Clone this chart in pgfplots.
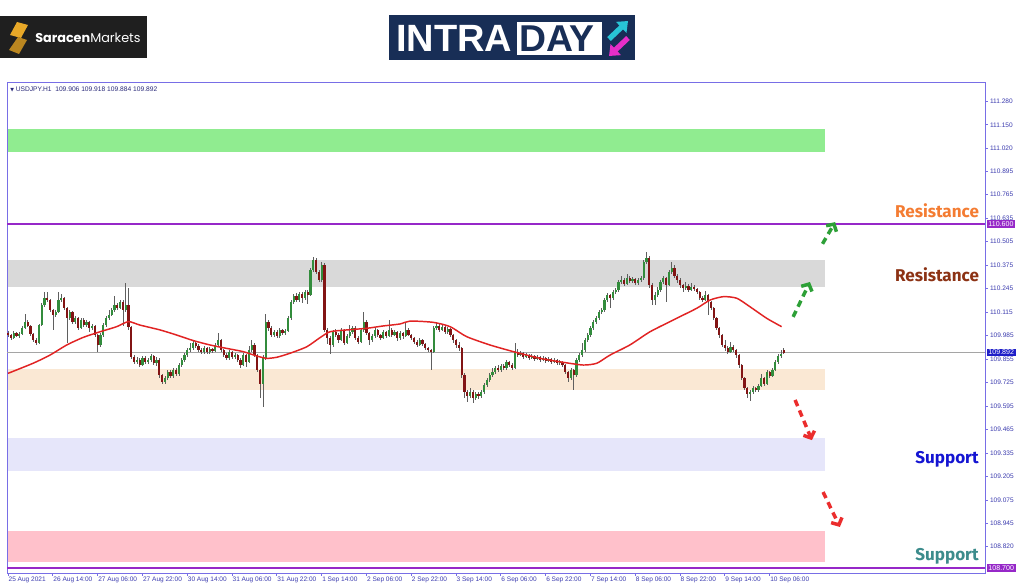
\documentclass[border=0pt]{standalone}
\usepackage{pgfplots}
\pgfplotsset{compat=1.18}
\usepackage{pgfplotstable}
\usepackage{fontspec}
\setmainfont{Liberation Sans}
\newfontfamily\dejavu{DejaVu Sans}
\newfontfamily\poppins{Poppins}
\newfontfamily\fira{Fira Sans}
\usetikzlibrary{arrows.meta}

\definecolor{axisblue}{RGB}{120,110,230}
\definecolor{ticktext}{RGB}{60,60,175}
\definecolor{upgreen}{RGB}{50,140,60}
\definecolor{downred}{RGB}{130,20,20}
\definecolor{wickgray}{RGB}{95,95,95}
\definecolor{magred}{RGB}{225,35,35}
\definecolor{bandgreen}{RGB}{144,236,144}
\definecolor{bandgray}{RGB}{217,217,217}
\definecolor{bandpeach}{RGB}{250,232,212}
\definecolor{bandlav}{RGB}{230,230,250}
\definecolor{bandpink}{RGB}{255,193,203}
\definecolor{lvlpurple}{RGB}{150,40,200}
\definecolor{lvlblue}{RGB}{30,30,200}
\definecolor{closegray}{RGB}{165,165,165}
\definecolor{resorange}{RGB}{244,124,50}
\definecolor{resbrown}{RGB}{140,50,20}
\definecolor{supblue}{RGB}{20,20,210}
\definecolor{supteal}{RGB}{60,140,140}
\definecolor{arrgreen}{RGB}{45,160,55}
\definecolor{arrred}{RGB}{235,45,45}
\definecolor{navylogo}{RGB}{24,46,86}
\definecolor{goldlogo}{RGB}{232,168,40}
\definecolor{cyanlogo}{RGB}{40,196,214}
\definecolor{magentalogo}{RGB}{230,46,200}

\pgfplotstableread{
x o h l c
0 109.999 110.010 109.978 109.988
1 109.988 109.996 109.960 109.971
2 109.971 110.012 109.965 109.999
3 109.999 110.006 109.975 109.982
4 109.982 110.005 109.970 109.994
5 109.994 110.040 109.988 110.027
6 110.027 110.104 110.020 110.060
7 110.060 110.070 110.030 110.038
8 110.038 110.045 109.985 109.994
9 109.994 110.000 109.950 109.960
10 109.960 109.970 109.935 109.944
11 109.944 110.050 109.938 110.043
12 110.043 110.165 110.035 110.154
13 110.154 110.226 110.145 110.193
14 110.193 110.226 110.170 110.181
15 110.181 110.190 110.115 110.126
16 110.126 110.135 110.016 110.099
17 110.099 110.125 110.088 110.115
18 110.115 110.226 110.110 110.181
19 110.181 110.215 110.170 110.193
20 110.193 110.200 110.126 110.137
21 110.137 110.145 109.944 110.082
22 110.082 110.126 110.071 110.115
23 110.115 110.120 110.050 110.060
24 110.060 110.093 110.050 110.082
25 110.082 110.090 110.016 110.027
26 110.027 110.082 110.020 110.071
27 110.071 110.080 110.035 110.043
28 110.043 110.071 110.035 110.060
29 110.060 110.065 110.005 110.027
30 110.027 110.050 110.016 110.038
31 110.038 110.045 109.975 109.988
32 109.988 109.995 109.894 109.933
33 109.933 109.999 109.925 109.988
34 109.988 110.055 109.980 110.043
35 110.043 110.093 110.035 110.082
36 110.082 110.126 110.071 110.099
37 110.099 110.137 110.090 110.126
38 110.126 110.204 110.115 110.154
39 110.154 110.165 110.126 110.137
40 110.137 110.181 110.130 110.170
41 110.170 110.181 110.040 110.126
42 110.126 110.275 110.115 110.154
43 110.154 110.250 110.016 110.032
44 110.032 110.040 109.855 109.866
45 109.866 109.877 109.828 109.839
46 109.839 109.866 109.828 109.850
47 109.850 109.861 109.811 109.822
48 109.822 109.872 109.817 109.861
49 109.861 109.870 109.830 109.839
50 109.839 109.861 109.828 109.850
51 109.850 109.883 109.839 109.872
52 109.872 109.877 109.822 109.833
53 109.833 109.866 109.817 109.850
54 109.850 109.861 109.750 109.767
55 109.767 109.772 109.717 109.728
56 109.728 109.761 109.717 109.750
57 109.750 109.794 109.739 109.783
58 109.783 109.794 109.750 109.761
59 109.761 109.806 109.750 109.794
60 109.794 109.806 109.761 109.772
61 109.772 109.833 109.761 109.822
62 109.822 109.861 109.811 109.850
63 109.850 109.888 109.839 109.877
64 109.877 109.916 109.866 109.905
65 109.905 109.944 109.894 109.916
66 109.916 109.960 109.905 109.944
67 109.944 109.955 109.916 109.927
68 109.927 109.938 109.894 109.905
69 109.905 109.916 109.883 109.894
70 109.894 109.927 109.883 109.916
71 109.916 109.922 109.883 109.894
72 109.894 109.922 109.883 109.911
73 109.911 109.916 109.888 109.900
74 109.900 109.944 109.894 109.933
75 109.933 109.999 109.927 109.960
76 109.960 109.966 109.894 109.905
77 109.905 109.911 109.866 109.877
78 109.877 109.888 109.850 109.861
79 109.861 109.905 109.850 109.894
80 109.894 109.900 109.855 109.866
81 109.866 109.888 109.855 109.877
82 109.877 109.883 109.839 109.850
83 109.850 109.861 109.806 109.822
84 109.822 109.888 109.817 109.877
85 109.877 109.883 109.811 109.839
86 109.839 109.927 109.833 109.905
87 109.905 109.960 109.894 109.933
88 109.933 109.944 109.866 109.877
89 109.877 109.883 109.783 109.794
90 109.794 109.800 109.640 109.717
91 109.717 109.877 109.590 109.861
92 109.861 110.104 109.850 110.060
93 110.060 110.071 110.010 110.027
94 110.027 110.038 109.977 109.988
95 109.988 110.016 109.977 110.005
96 110.005 110.016 109.971 109.982
97 109.982 110.027 109.971 110.016
98 110.016 110.021 109.988 109.999
99 109.999 110.021 109.988 110.010
100 110.010 110.093 110.005 110.082
101 110.082 110.181 110.071 110.170
102 110.170 110.215 110.160 110.204
103 110.204 110.220 110.170 110.181
104 110.181 110.226 110.170 110.215
105 110.215 110.226 110.165 110.193
106 110.193 110.237 110.181 110.226
107 110.226 110.237 110.160 110.209
108 110.209 110.358 110.204 110.347
109 110.347 110.419 110.336 110.403
110 110.403 110.414 110.325 110.336
111 110.336 110.347 110.281 110.292
112 110.292 110.392 110.281 110.375
113 110.375 110.386 110.005 110.016
114 110.016 110.027 109.938 109.971
115 109.971 109.982 109.883 109.933
116 109.933 110.016 109.922 110.005
117 110.005 110.021 109.977 109.988
118 109.988 109.999 109.944 109.960
119 109.960 110.027 109.955 110.016
120 110.016 110.021 109.933 109.944
121 109.944 109.994 109.938 109.982
122 109.982 110.043 109.971 110.005
123 110.005 110.038 109.994 110.027
124 110.027 110.038 109.960 109.971
125 109.971 109.982 109.938 109.949
126 109.949 110.027 109.944 110.016
127 110.016 110.115 110.005 110.060
128 110.060 110.071 109.988 109.999
129 109.999 110.005 109.933 109.960
130 109.960 109.994 109.949 109.982
131 109.982 110.027 109.971 110.016
132 110.016 110.021 109.977 109.988
133 109.988 109.994 109.960 109.971
134 109.971 110.016 109.966 110.005
135 110.005 110.010 109.971 109.982
136 109.982 110.071 109.977 110.016
137 110.016 110.027 109.977 109.988
138 109.988 110.016 109.982 110.005
139 110.005 110.010 109.955 109.971
140 109.971 110.010 109.960 109.999
141 109.999 110.005 109.966 109.982
142 109.982 110.060 109.977 110.016
143 110.016 110.027 109.982 109.988
144 109.988 109.994 109.960 109.971
145 109.971 109.977 109.938 109.949
146 109.949 109.960 109.922 109.933
147 109.933 109.971 109.927 109.960
148 109.960 109.966 109.927 109.938
149 109.938 109.944 109.905 109.916
150 109.916 109.922 109.894 109.905
151 109.905 109.911 109.794 109.894
152 109.894 110.038 109.888 110.027
153 110.027 110.060 110.016 110.038
154 110.038 110.049 110.005 110.016
155 110.016 110.049 110.010 110.032
156 110.032 110.038 109.994 110.005
157 110.005 110.032 109.994 110.021
158 110.021 110.027 109.977 109.988
159 109.988 109.994 109.944 109.960
160 109.960 109.966 109.916 109.933
161 109.933 109.949 109.900 109.916
162 109.916 109.922 109.750 109.767
163 109.767 109.778 109.640 109.673
164 109.673 109.684 109.618 109.651
165 109.651 109.695 109.640 109.673
166 109.673 109.684 109.612 109.640
167 109.640 109.673 109.629 109.662
168 109.662 109.673 109.635 109.651
169 109.651 109.684 109.640 109.673
170 109.673 109.723 109.662 109.712
171 109.712 109.750 109.701 109.739
172 109.739 109.778 109.728 109.767
173 109.767 109.806 109.756 109.783
174 109.783 109.817 109.772 109.806
175 109.806 109.822 109.783 109.794
176 109.794 109.828 109.783 109.817
177 109.817 109.828 109.794 109.806
178 109.806 109.850 109.794 109.839
179 109.839 109.844 109.811 109.822
180 109.822 109.833 109.794 109.806
181 109.806 109.944 109.800 109.894
182 109.894 109.911 109.866 109.877
183 109.877 109.900 109.872 109.888
184 109.888 109.894 109.855 109.866
185 109.866 109.888 109.861 109.877
186 109.877 109.883 109.850 109.861
187 109.861 109.883 109.855 109.872
188 109.872 109.877 109.844 109.855
189 109.855 109.877 109.850 109.866
190 109.866 109.872 109.839 109.850
191 109.850 109.872 109.844 109.861
192 109.861 109.866 109.833 109.844
193 109.844 109.866 109.839 109.855
194 109.855 109.861 109.828 109.839
195 109.839 109.861 109.833 109.850
196 109.850 109.855 109.822 109.833
197 109.833 109.850 109.822 109.839
198 109.839 109.844 109.811 109.822
199 109.822 109.828 109.772 109.783
200 109.783 109.789 109.728 109.750
201 109.750 109.806 109.739 109.794
202 109.794 109.800 109.684 109.767
203 109.767 109.861 109.756 109.850
204 109.850 109.888 109.839 109.877
205 109.877 109.944 109.866 109.905
206 109.905 109.971 109.894 109.960
207 109.960 109.999 109.949 109.988
208 109.988 110.038 109.977 110.027
209 110.027 110.071 110.016 110.060
210 110.060 110.093 110.049 110.082
211 110.082 110.126 110.071 110.115
212 110.115 110.137 110.104 110.126
213 110.126 110.193 110.115 110.181
214 110.181 110.220 110.170 110.209
215 110.209 110.215 110.137 110.193
216 110.193 110.237 110.181 110.226
217 110.226 110.248 110.215 110.237
218 110.237 110.292 110.226 110.281
219 110.281 110.314 110.270 110.292
220 110.292 110.303 110.259 110.270
221 110.270 110.325 110.264 110.303
222 110.303 110.314 110.275 110.287
223 110.287 110.309 110.275 110.297
224 110.297 110.303 110.264 110.275
225 110.275 110.303 110.264 110.292
226 110.292 110.314 110.281 110.303
227 110.303 110.403 110.292 110.392
228 110.392 110.447 110.381 110.414
229 110.414 110.425 110.248 110.264
230 110.264 110.275 110.154 110.181
231 110.181 110.226 110.154 110.209
232 110.209 110.253 110.198 110.237
233 110.237 110.292 110.226 110.281
234 110.281 110.314 110.270 110.303
235 110.303 110.309 110.170 110.264
236 110.264 110.347 110.259 110.336
237 110.336 110.392 110.325 110.358
238 110.358 110.375 110.303 110.314
239 110.314 110.325 110.275 110.292
240 110.292 110.303 110.248 110.264
241 110.264 110.270 110.226 110.248
242 110.248 110.281 110.237 110.259
243 110.259 110.270 110.226 110.237
244 110.237 110.275 110.231 110.253
245 110.253 110.264 110.231 110.242
246 110.242 110.248 110.215 110.226
247 110.226 110.231 110.181 110.193
248 110.193 110.204 110.170 110.181
249 110.181 110.231 110.176 110.209
250 110.209 110.215 110.099 110.170
251 110.170 110.176 110.126 110.137
252 110.137 110.143 110.071 110.082
253 110.082 110.088 110.016 110.027
254 110.027 110.032 109.971 109.988
255 109.988 109.994 109.922 109.933
256 109.933 109.960 109.900 109.916
257 109.916 109.927 109.883 109.894
258 109.894 109.949 109.888 109.922
259 109.922 109.933 109.894 109.905
260 109.905 109.911 109.861 109.877
261 109.877 109.883 109.806 109.822
262 109.822 109.828 109.739 109.750
263 109.750 109.756 109.684 109.695
264 109.695 109.701 109.640 109.662
265 109.662 109.684 109.623 109.673
266 109.673 109.706 109.662 109.695
267 109.695 109.701 109.673 109.684
268 109.684 109.717 109.673 109.706
269 109.706 109.772 109.701 109.750
270 109.750 109.756 109.706 109.717
271 109.717 109.794 109.712 109.783
272 109.783 109.789 109.750 109.761
273 109.761 109.806 109.756 109.794
274 109.794 109.850 109.789 109.839
275 109.839 109.883 109.828 109.872
276 109.872 109.905 109.861 109.883
277 109.906 109.918 109.884 109.892
}\candles

\pgfplotstableread{
x y
0 109.776
9.0 109.832
15 109.877
21 109.933
26.9 109.975
32.9 110.006
38.8 110.034
43 110.062
47.1 110.043
54.3 110.016
60.2 109.988
66.2 109.957
72.1 109.933
78.1 109.914
84 109.896
88.8 109.872
92.4 109.859
96 109.865
100.7 109.887
106.7 109.923
111.4 109.973
115 110.006
121 110.016
128.1 110.025
134 110.038
140 110.049
143.6 110.065
151.9 110.058
157.9 110.034
163.8 109.979
172.1 109.933
180.5 109.896
190 109.859
198.3 109.837
205.5 109.822
210.3 109.832
215 109.877
222.1 109.933
229.3 110.006
237.6 110.071
246 110.136
250.7 110.181
255.5 110.200
260.3 110.191
265 110.144
271 110.080
276.3 110.034
}\ma

\begin{document}
\begin{tikzpicture}
\useasboundingbox (0,0) rectangle (768pt,440.25pt);
\fill[white] (0,0) rectangle (768pt,440.25pt);

\begin{scope}[x=0.75pt,y=-0.75pt,shift={(0,440.25pt)}]
  % Saracen Markets logo
  \fill[black!88] (0,16) rectangle (147,58);
  \fill[goldlogo] (17,22) -- (28,25) -- (21,38) -- (10,35) -- cycle;
  \fill[goldlogo!80!black] (18,37) -- (27,40) -- (19,54) -- (9,50) -- cycle;
  \node[anchor=west, inner sep=0pt, text=white, font=\poppins\fontsize{9.6}{10}\selectfont] at (35,37.5) {{\bfseries Saracen}Markets};
  % INTRADAY logo
  \fill[navylogo] (389,15) rectangle (635,60);
  \node[anchor=west, inner sep=0pt, text=white, font=\bfseries\fontsize{28.5}{28}\selectfont] at (396,38) {INTRA};
  \fill[white] (517,22) rectangle (602,55);
  \node[anchor=west, inner sep=0pt, text=navylogo, font=\bfseries\fontsize{28}{28}\selectfont] at (519,38.5) {DAY};
  \draw[cyanlogo, line width=4pt, -{Triangle[length=7pt,width=11pt]}] (609,39) -- (628,21);
  \draw[magentalogo, line width=4pt, -{Triangle[length=7pt,width=11pt]}] (628,38) -- (609,56);
  % symbol title
  \node[anchor=west, inner sep=0pt, text=ticktext!70!black, font=\fontsize{5}{5}\selectfont] at (10,89) {{\dejavu\fontsize{3.6}{4}\selectfont ▼}\ USDJPY.H1\ \ 109.906 109.918 109.884 109.892};
\end{scope}

\begin{axis}[
  at={(5.25pt,10.5pt)}, anchor=south west,
  width=733.5pt, height=368.25pt, scale only axis,
  xmin=-0.357, xmax=348.93, ymin=108.6723, ymax=111.3866,
  axis line style={draw=axisblue, line width=0.7pt},
  clip mode=individual,
  xtick={0,16,...,272},
  xticklabels={25 Aug 2021,26 Aug 14:00,27 Aug 06:00,27 Aug 22:00,30 Aug 14:00,31 Aug 06:00,31 Aug 22:00,1 Sep 14:00,2 Sep 06:00,2 Sep 22:00,3 Sep 14:00,6 Sep 06:00,6 Sep 22:00,7 Sep 14:00,8 Sep 06:00,8 Sep 22:00,9 Sep 14:00,10 Sep 06:00},
  ytick={108.820,108.945,109.075,109.205,109.335,109.465,109.595,109.725,109.855,109.985,110.115,110.245,110.375,110.505,110.635,110.765,110.895,111.020,111.150,111.280},
  yticklabels={108.820,108.945,109.075,109.205,109.335,109.465,109.595,109.725,109.855,109.985,110.115,110.245,110.375,110.505,110.635,110.765,110.895,111.020,111.150,111.280},
  xtick pos=bottom, ytick pos=right,
  tick align=outside, major tick length=2.2pt,
  tick style={draw=axisblue, line width=0.5pt},
  xticklabel style={font=\fontsize{4.9}{5}\selectfont, text=ticktext, anchor=north west, inner sep=0.8pt, xshift=-0.5pt},
  yticklabel style={font=\fontsize{4.9}{5}\selectfont, text=ticktext, anchor=west, inner sep=0.8pt, xshift=0.6pt},
]
% bands
\addplot[fill=bandgreen, draw=none] coordinates {(0,111.000) (291.8,111.000) (291.8,111.127) (0,111.127)};
\addplot[fill=bandgray, draw=none] coordinates {(0,110.253) (291.8,110.253) (291.8,110.403) (0,110.403)};
\addplot[fill=bandpeach, draw=none] coordinates {(0,109.684) (291.8,109.684) (291.8,109.800) (0,109.800)};
\addplot[fill=bandlav, draw=none] coordinates {(0,109.236) (291.8,109.236) (291.8,109.419) (0,109.419)};
\addplot[fill=bandpink, draw=none] coordinates {(0,108.733) (291.8,108.733) (291.8,108.905) (0,108.905)};
% level lines
\addplot[closegray, line width=0.6pt] coordinates {(-0.357,109.892) (348.93,109.892)};
\addplot[lvlpurple, line width=1.2pt] coordinates {(-0.357,110.600) (348.93,110.600)};
\addplot[lvlpurple, line width=1.2pt] coordinates {(-0.357,108.700) (348.93,108.700)};
% wicks
\addplot[draw=none, mark=none, error bars/.cd, y dir=both, y explicit, error mark=none,
  error bar style={draw=wickgray, line width=0.45pt}]
  table[x=x, y expr={(\thisrow{h}+\thisrow{l})/2}, y error expr={(\thisrow{h}-\thisrow{l})/2}] {\candles};
% bullish bodies
\addplot[draw=none, mark=none, restrict expr to domain={\thisrow{c}-\thisrow{o}}{0:5},
  error bars/.cd, y dir=both, y explicit, error mark=none,
  error bar style={draw=upgreen, line width=1.65pt}]
  table[x=x, y expr={(\thisrow{o}+\thisrow{c})/2}, y error expr={abs(\thisrow{c}-\thisrow{o})/2}] {\candles};
% bearish bodies
\addplot[draw=none, mark=none, restrict expr to domain={\thisrow{o}-\thisrow{c}}{0.0001:5},
  error bars/.cd, y dir=both, y explicit, error mark=none,
  error bar style={draw=downred, line width=1.65pt}]
  table[x=x, y expr={(\thisrow{o}+\thisrow{c})/2}, y error expr={abs(\thisrow{c}-\thisrow{o})/2}] {\candles};
% moving average
\addplot[magred, line width=1.1pt, smooth, tension=0.4, mark=none] table[x=x, y=y] {\ma};
% arrows
\addplot[arrgreen, line width=2.6pt, dash pattern=on 5pt off 3.5pt, -{Straight Barb[length=4pt,width=9pt]}] coordinates {(280.4,110.088) (286.4,110.281)};
\addplot[arrgreen, line width=2.6pt, dash pattern=on 5pt off 3.5pt, -{Straight Barb[length=4pt,width=9pt]}] coordinates {(290.9,110.492) (295.4,110.612)};
\addplot[arrred, line width=2.6pt, dash pattern=on 5pt off 3.5pt, -{Straight Barb[length=4pt,width=9pt]}] coordinates {(281.1,109.629) (287.1,109.407)};
\addplot[arrred, line width=2.6pt, dash pattern=on 5pt off 3.5pt, -{Straight Barb[length=4pt,width=9pt]}] coordinates {(291.1,109.120) (297.1,108.927)};
% price boxes
\node[anchor=west, fill=lvlpurple, text=white, inner xsep=1.4pt, inner ysep=1pt, xshift=1pt, font=\fontsize{5.3}{5.5}\selectfont] at (axis cs:348.93,110.600) {110.600};
\node[anchor=west, fill=lvlblue, text=white, inner xsep=1.4pt, inner ysep=1pt, xshift=1pt, font=\fontsize{5.3}{5.5}\selectfont] at (axis cs:348.93,109.892) {109.892};
\node[anchor=west, fill=lvlpurple, text=white, inner xsep=1.4pt, inner ysep=1pt, xshift=1pt, font=\fontsize{5.3}{5.5}\selectfont] at (axis cs:348.93,108.700) {108.700};
\end{axis}

\begin{scope}[x=0.75pt,y=-0.75pt,shift={(0,440.25pt)}]
  \node[text=resorange, font=\fira\bfseries\fontsize{12.8}{13}\selectfont, inner sep=0pt] at (937,211) {Resistance};
  \node[text=resbrown, font=\fira\bfseries\fontsize{12.8}{13}\selectfont, inner sep=0pt] at (937,275) {Resistance};
  \node[text=supblue, font=\fira\bfseries\fontsize{12.8}{13}\selectfont, inner sep=0pt] at (947,459) {Support};
  \node[text=supteal, font=\fira\bfseries\fontsize{12.8}{13}\selectfont, inner sep=0pt] at (947,556) {Support};
\end{scope}
\end{tikzpicture}
\end{document}
